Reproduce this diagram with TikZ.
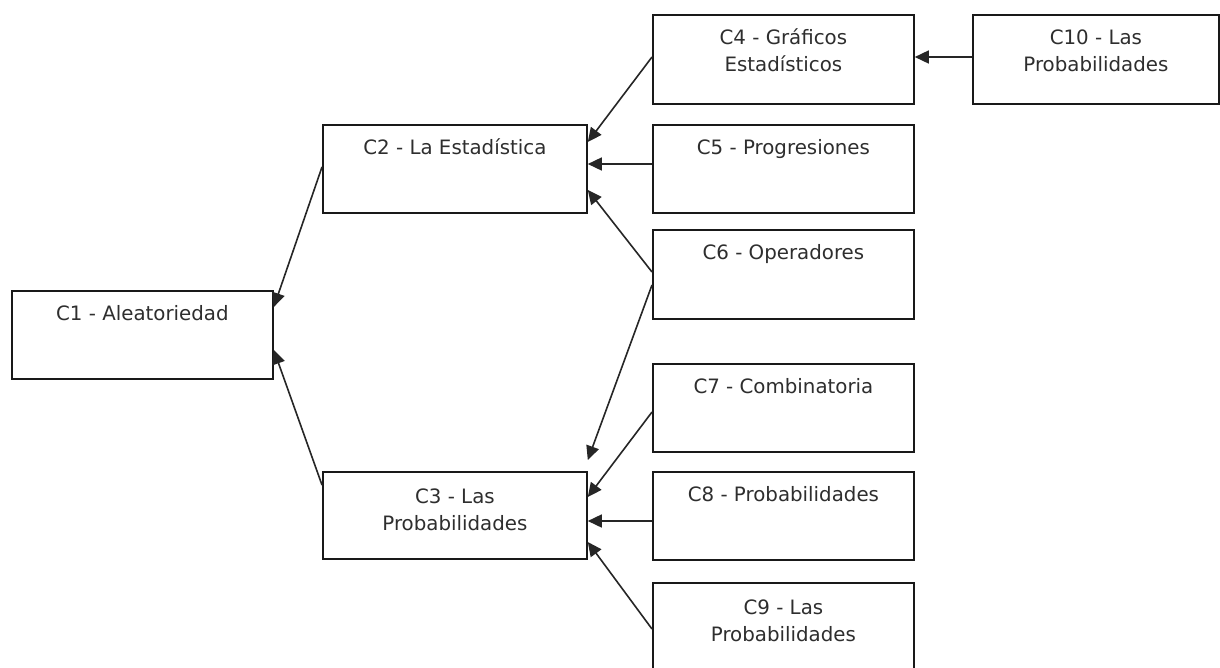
\documentclass[tikz,border=0pt]{standalone}
\usepackage{fontspec}
\setmainfont{DejaVu Sans}
\usetikzlibrary{arrows.meta}
\tikzset{
  box/.style={draw=black!90, line width=1.8pt, fill=white, minimum width=#1, minimum height=88pt, inner sep=0pt, anchor=north west},
  box/.default=261pt,
  lbl/.style={anchor=base, inner sep=0pt, align=center, font=\fontsize{19.8}{27}\selectfont, text=black!82},
  conn/.style={line width=1.6pt, draw=black!85, -{Triangle[length=14pt,width=13pt]}}
}
\begin{document}
\begin{tikzpicture}[x=1pt,y=-1pt]
\useasboundingbox (0,0) rectangle (1220,667);
\clip (0,0) rectangle (1220,667);
\fill[white] (0,0) rectangle (1220,667);
% boxes
\node[box] (c1) at (11,290) {};
\node[box=264pt] (c2) at (322,124) {};
\node[box=264pt, minimum height=87pt] (c3) at (322,471) {};
\node[box, minimum height=89pt] (c4) at (652,14) {};
\node[box=246pt, minimum height=89pt] (c10) at (972,14) {};
\node[box] (c5) at (652,124) {};
\node[box, minimum height=89pt] (c6) at (652,229) {};
\node[box] (c7) at (652,363) {};
\node[box] (c8) at (652,471) {};
\node[box] (c9) at (652,582) {};
% labels
\node[lbl] (t1) at ([yshift=-30pt]c1.north) {C1 - Aleatoriedad};
\node[lbl] (t2) at ([yshift=-30pt]c2.north) {C2 - La Estadística};
\node[lbl] (t3) at ([yshift=-59pt]c3.north) {C3 - Las\\Probabilidades};
\node[lbl] (t4) at ([yshift=-57pt]c4.north) {C4 - Gráficos\\Estadísticos};
\node[lbl] (t10) at ([yshift=-57pt]c10.north) {C10 - Las\\Probabilidades};
\node[lbl] (t5) at ([yshift=-30pt]c5.north) {C5 - Progresiones};
\node[lbl] (t6) at ([yshift=-30pt]c6.north) {C6 - Operadores};
\node[lbl] (t7) at ([yshift=-30pt]c7.north) {C7 - Combinatoria};
\node[lbl] (t8) at ([yshift=-30pt]c8.north) {C8 - Probabilidades};
\node[lbl] (t9) at ([yshift=-59pt]c9.north) {C9 - Las\\Probabilidades};
% connectors
\draw[conn] ([yshift=-43pt]c2.north west) -- ([yshift=-17pt]c1.north east);
\draw[conn] ([yshift=-14pt]c3.north west) -- ([yshift=-60pt]c1.north east);
\draw[conn] ([yshift=-43pt]c4.north west) -- ([yshift=-18pt]c2.north east);
\draw[conn] ([yshift=-40pt]c5.north west) -- ([yshift=-40pt]c2.north east);
\draw[conn] ([yshift=-43pt]c6.north west) -- ([yshift=-66pt]c2.north east);
\draw[conn] ([yshift=-56pt]c6.north west) -- ([yshift=11pt]c3.north east);
\draw[conn] ([yshift=-49pt]c7.north west) -- ([yshift=-26pt]c3.north east);
\draw[conn] ([yshift=-50pt]c8.north west) -- ([yshift=-50pt]c3.north east);
\draw[conn] ([yshift=-47pt]c9.north west) -- ([yshift=-71pt]c3.north east);
\draw[conn] ([yshift=-43pt]c10.north west) -- ([yshift=-43pt]c4.north east);
\end{tikzpicture}
\end{document}
